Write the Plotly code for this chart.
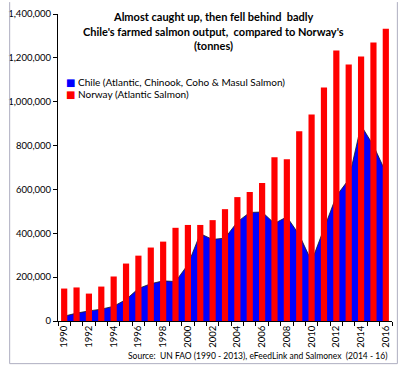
import plotly.graph_objects as go

years = list(range(1990, 2017))
chile = [22000, 36000, 46000, 54000, 67000, 98000, 148000, 170000, 183000, 180000,
         257000, 398000, 372000, 378000, 452000, 495000, 497000, 445000, 475000, 393000,
         272000, 422000, 570000, 645000, 892000, 800000, 678000]
norway = [148000, 153000, 125000, 157000, 203000, 262000, 298000, 335000, 362000, 425000,
          438000, 438000, 460000, 510000, 565000, 588000, 629000, 747000, 738000, 865000,
          942000, 1065000, 1233000, 1170000, 1206000, 1270000, 1333000]
series_names = ["Chile (Atlantic, Chinook, Coho &amp; Masul Salmon)", "Norway (Atlantic Salmon)"]
series_colors = ["#0000FF", "#FF0000"]
tick_years = years[::2]
tick_text = [str(y) for y in tick_years]
y_ticks = list(range(0, 1400001, 200000))

FONT = "Lato, 'DejaVu Sans', sans-serif"

fig = go.Figure()
fig.add_trace(go.Scatter(
    x=years, y=chile, mode="lines", fill="tozeroy",
    fillcolor=series_colors[0], line=dict(color="#1a1a1a", width=0.8),
    name=series_names[0], xaxis="x", yaxis="y", showlegend=False))
fig.add_trace(go.Bar(
    x=years, y=norway, width=0.5, marker=dict(color=series_colors[1], line=dict(width=0)),
    name=series_names[1], xaxis="x2", yaxis="y", showlegend=False))

W, H = 400, 367
ml, mr, mt, mb = 50, 8, 12, 45.5
pw, ph = W - ml - mr, H - mt - mb

def px(xp):
    return (xp - ml) / pw

def py(yp):
    return (H - mb - yp) / ph

fig.update_layout(
    width=W, height=H,
    margin=dict(l=ml, r=mr, t=mt, b=mb),
    paper_bgcolor="white", plot_bgcolor="white",
    font=dict(family=FONT, color="black", size=9.5),
    xaxis=dict(range=[years[0] - 0.5, years[-1] + 0.5], showline=True, linecolor="black",
               linewidth=1, showgrid=False, zeroline=False, ticks="",
               tickmode="array", tickvals=tick_years, ticktext=tick_text, tickangle=-90,
               tickfont=dict(size=9.5, family=FONT),
               minor=dict(tickmode="array", tickvals=[y - 0.5 for y in years] + [years[-1] + 0.5],
                          ticks="outside", ticklen=4, tickcolor="black", tickwidth=1, showgrid=False)),
    xaxis2=dict(range=[years[0] - 0.5, years[-1] + 0.5], overlaying="x", anchor="y",
                visible=False, matches="x"),
    yaxis=dict(range=[0, 1400000], tickmode="array", tickvals=y_ticks, tickformat=",",
               showline=True, linecolor="black", linewidth=1, showgrid=False, zeroline=False,
               ticks="outside", ticklen=4, tickcolor="black", tickfont=dict(size=9.5, family=FONT)),
    bargap=0.5,
    showlegend=False,
)

# title lines
title_lines = ["Almost caught up, then fell behind  badly",
               "Chile's farmed salmon output,  compared to Norway's",
               "(tonnes)"]
for t, yp in zip(title_lines, [15, 29.5, 44]):
    fig.add_annotation(text=f"<b>{t}</b>", xref="paper", yref="paper", x=px(209), y=py(yp),
                       xanchor="center", yanchor="middle", showarrow=False,
                       font=dict(family=FONT, size=11, color="black"))

# legend (as annotations)
for name, color, yp in zip(series_names, series_colors, [81, 92.5]):
    fig.add_annotation(text=f'<span style="color:{color}">■</span> {name}',
                       xref="paper", yref="paper", x=px(56), y=py(yp),
                       xanchor="left", yanchor="middle", showarrow=False,
                       font=dict(family=FONT, size=10, color="black"))

fig.add_annotation(text="Source:  UN FAO (1990 - 2013), eFeedLink and Salmonex  (2014 - 16)",
                   xref="paper", yref="paper", x=px(389), y=py(356.5),
                   xanchor="right", yanchor="middle", showarrow=False,
                   font=dict(family=FONT, size=8.5, color="black"))

# chart-area border (left, bottom, right)
x0, x1, yb, yt = px(0.5), px(397.5), py(364.5), py(0)
fig.add_shape(type="path", xref="paper", yref="paper",
              path=f"M {x0} {yt} L {x0} {yb} L {x1} {yb} L {x1} {yt}",
              line=dict(color="#aeaec0", width=1))

fig.write_html("out.html", config={"displayModeBar": False},
               post_script="document.body.style.margin='0';document.body.style.overflow='hidden';")
